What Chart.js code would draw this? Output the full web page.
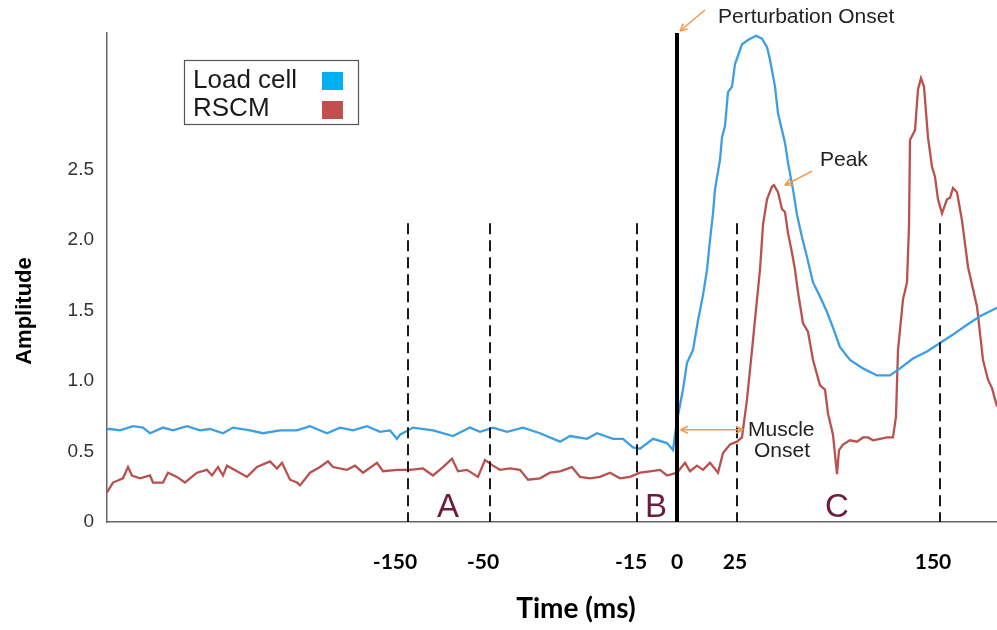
<!DOCTYPE html>
<html>
<head>
<meta charset="utf-8">
<title>Load cell / RSCM</title>
<script src="https://cdn.jsdelivr.net/npm/chart.js@4.4.1/dist/chart.umd.min.js"></script>
<style>
  html, body { margin: 0; padding: 0; background: #fff; }
</style>
</head>
<body>
<canvas id="myChart" width="997" height="630"></canvas>
<script>
// sample index (0 = perturbation onset) and amplitude for each trace
const loadSample = [-285, -283.5, -278.5, -272, -267, -263.5, -257, -252, -245, -238.5, -233.5, -227, -222, -213.5, -207, -198.5, -190, -183.5, -175, -168.5, -162, -155, -148.5, -143.5, -140, -138.5, -132, -122, -112, -103.5, -98.5, -92, -85, -77, -68.5, -58.5, -53.5, -45, -40, -32, -27, -22, -18.5, -12, -5, -2, 0, 1.5, 3, 5, 8, 10.5, 13, 15, 16.5, 18, 19, 21.5, 22.5, 24, 25.5, 27.5, 29, 32.5, 35.5, 39.5, 42.5, 45, 46.5, 49, 50.5, 54, 55.5, 58, 60, 62.5, 65, 68, 71.5, 75, 78, 81.5, 86.5, 93, 100, 106.5, 111.5, 118, 125, 131.5, 138, 145, 151.5, 160];
const loadAmp = [0.66, 0.66, 0.65, 0.68, 0.67, 0.63, 0.67, 0.65, 0.68, 0.65, 0.66, 0.63, 0.67, 0.65, 0.63, 0.65, 0.65, 0.68, 0.63, 0.67, 0.65, 0.68, 0.64, 0.65, 0.59, 0.62, 0.67, 0.65, 0.61, 0.67, 0.64, 0.67, 0.64, 0.67, 0.63, 0.57, 0.61, 0.59, 0.63, 0.59, 0.59, 0.53, 0.52, 0.59, 0.56, 0.51, 0.72, 0.83, 0.94, 1.13, 1.22, 1.43, 1.61, 1.79, 2.00, 2.19, 2.36, 2.57, 2.73, 2.81, 3.05, 3.09, 3.25, 3.39, 3.42, 3.45, 3.43, 3.37, 3.28, 3.09, 2.90, 2.69, 2.55, 2.36, 2.18, 2.02, 1.88, 1.70, 1.60, 1.49, 1.38, 1.24, 1.15, 1.09, 1.04, 1.04, 1.09, 1.16, 1.21, 1.27, 1.33, 1.40, 1.46, 1.52];

const rscmSample = [-285, -282, -277, -274.5, -272.5, -268.5, -263.5, -262, -257, -254.5, -250, -246, -243.5, -240, -235, -232.5, -229.5, -227, -225, -220, -215, -210, -203.5, -200, -197.5, -193.5, -190, -188.5, -183.5, -178.5, -174.5, -172, -165, -161, -157, -150, -147, -140, -133.5, -127, -122, -117, -112.5, -109.5, -105, -99.5, -96, -92, -88.5, -83.5, -78.5, -74.5, -68.5, -63.5, -58.5, -52.5, -48.5, -43.5, -38.5, -33.5, -28.5, -23.5, -18.5, -13.5, -8.5, -5, 0, 4, 6.5, 10, 13, 16.5, 20.5, 23, 26.5, 30, 32.5, 35, 37.5, 40, 41.5, 43, 45, 47.5, 48.5, 50.5, 52.5, 54, 55.5, 57.5, 59, 60.5, 63, 65.5, 68, 71.5, 74, 75.5, 78, 80, 81, 83, 86.5, 90, 93, 95.5, 98, 101.5, 105, 108, 109.5, 110.5, 113, 115, 116, 116.5, 119, 120.5, 122, 123.5, 125.5, 127.5, 129, 130.5, 132.5, 135, 136.5, 138, 140, 142.5, 145.5, 150, 153, 155.5, 157.5, 160];
const rscmAmp = [0.21, 0.28, 0.31, 0.39, 0.33, 0.31, 0.33, 0.28, 0.28, 0.35, 0.32, 0.28, 0.31, 0.35, 0.37, 0.33, 0.39, 0.33, 0.40, 0.36, 0.32, 0.39, 0.43, 0.38, 0.42, 0.30, 0.28, 0.26, 0.35, 0.39, 0.43, 0.39, 0.37, 0.40, 0.35, 0.42, 0.36, 0.37, 0.37, 0.38, 0.33, 0.39, 0.45, 0.36, 0.37, 0.32, 0.44, 0.40, 0.37, 0.38, 0.37, 0.30, 0.31, 0.35, 0.36, 0.39, 0.32, 0.31, 0.32, 0.35, 0.31, 0.32, 0.35, 0.36, 0.37, 0.33, 0.35, 0.42, 0.36, 0.40, 0.37, 0.42, 0.35, 0.49, 0.55, 0.57, 0.60, 0.87, 1.22, 1.58, 1.79, 2.11, 2.29, 2.38, 2.39, 2.34, 2.22, 2.20, 2.05, 1.91, 1.79, 1.63, 1.41, 1.35, 1.15, 0.97, 0.94, 0.77, 0.62, 0.34, 0.51, 0.55, 0.58, 0.57, 0.60, 0.60, 0.58, 0.59, 0.60, 0.60, 0.75, 1.22, 1.58, 1.70, 2.10, 2.71, 2.78, 3.07, 3.15, 3.09, 2.73, 2.52, 2.45, 2.29, 2.19, 2.29, 2.30, 2.37, 2.34, 2.14, 1.81, 1.53, 1.15, 1.01, 0.95, 0.82];

// time axis labels and the analysis window boundaries (in samples)
const tickSamples = [-141, -97, -23, 0, 29, 128];
const tickLabels = ['-150', '-50', '-15', '0', '25', '150'];
const windowMarks = [-134.5, -93.5, -20, 30, 131.5];
const windowTop = 2.12;
const ampTicks = [0, 0.5, 1, 1.5, 2, 2.5];

const toPoints = (xs, ys) => xs.map((s, i) => ({ x: s, y: ys[i] }));

const ORANGE = '#f39a4f';
const TEXT = '#222';

function arrow(ctx, x1, y1, x2, y2, both) {
  const head = (xa, ya, xb, yb) => {
    const a = Math.atan2(yb - ya, xb - xa);
    ctx.beginPath();
    ctx.moveTo(xb, yb);
    ctx.lineTo(xb - 8 * Math.cos(a - 0.45), yb - 8 * Math.sin(a - 0.45));
    ctx.moveTo(xb, yb);
    ctx.lineTo(xb - 8 * Math.cos(a + 0.45), yb - 8 * Math.sin(a + 0.45));
    ctx.stroke();
  };
  ctx.beginPath();
  ctx.moveTo(x1, y1);
  ctx.lineTo(x2, y2);
  ctx.stroke();
  head(x1, y1, x2, y2);
  if (both) head(x2, y2, x1, y1);
}

// markers, phase letters, notes, legend and axis titles
const overlay = {
  id: 'overlay',
  afterDatasetsDraw(chart) {
    const { ctx, chartArea: area, scales: { x, y } } = chart;
    const px = (s) => x.getPixelForValue(s);
    const py = (v) => y.getPixelForValue(v);
    ctx.save();

    // window boundaries
    ctx.strokeStyle = '#1a1a1a';
    ctx.lineWidth = 2;
    ctx.setLineDash([11, 6]);
    windowMarks.forEach((s) => {
      ctx.beginPath();
      ctx.moveTo(px(s), py(windowTop));
      ctx.lineTo(px(s), py(0));
      ctx.stroke();
    });
    ctx.setLineDash([]);

    // perturbation onset
    ctx.strokeStyle = '#000';
    ctx.lineWidth = 4;
    ctx.beginPath();
    ctx.moveTo(px(0), area.top);
    ctx.lineTo(px(0), area.bottom);
    ctx.stroke();

    // phase letters
    ctx.fillStyle = '#6b1d3d';
    ctx.font = '33px "Liberation Sans", Arial, sans-serif';
    ctx.textAlign = 'center';
    ctx.textBaseline = 'alphabetic';
    ctx.fillText('A', px(-114.5), py(0) - 5);
    ctx.fillText('B', px(-10.5), py(0) - 5);
    ctx.fillText('C', px(80), py(0) - 5);

    // notes
    ctx.fillStyle = TEXT;
    ctx.font = '21px "Liberation Sans", Arial, sans-serif';
    ctx.textAlign = 'left';
    ctx.fillText('Perturbation Onset', px(20.5), area.top - 10);
    ctx.textBaseline = 'middle';
    ctx.fillText('Peak', px(71.5), py(2.57));
    ctx.fillText('Muscle', px(35.5), py(0.65));
    ctx.fillText('Onset', px(38.5), py(0.5));

    ctx.strokeStyle = ORANGE;
    ctx.lineWidth = 1.6;
    arrow(ctx, px(14), area.top - 23, px(1.5), area.top - 2, false);
    arrow(ctx, px(67.5), py(2.49), px(54), py(2.39), false);
    arrow(ctx, px(1.8), py(0.655), px(33), py(0.655), true);

    // legend
    const lx = area.left + 77;
    const ly = area.top + 27;
    ctx.strokeStyle = '#555';
    ctx.lineWidth = 1.2;
    ctx.strokeRect(lx + 0.5, ly + 0.5, 174, 64);
    ctx.fillStyle = '#1a1a1a';
    ctx.font = '26px "Liberation Sans", Arial, sans-serif';
    ctx.textBaseline = 'alphabetic';
    ctx.fillText('Load cell', lx + 9, ly + 28);
    ctx.fillText('RSCM', lx + 9, ly + 56);
    ctx.fillStyle = '#00b0f0';
    ctx.fillRect(lx + 138, ly + 12, 21, 18);
    ctx.fillStyle = '#c0504d';
    ctx.fillRect(lx + 138, ly + 41, 21, 18);

    // axis titles
    ctx.fillStyle = '#000';
    ctx.textAlign = 'center';
    ctx.textBaseline = 'middle';
    ctx.font = 'bold 28px Lato, sans-serif';
    ctx.fillText('Time (ms)', 576, 609);
    ctx.save();
    ctx.translate(25, 311);
    ctx.rotate(-Math.PI / 2);
    ctx.font = 'bold 22px "Liberation Sans", Arial, sans-serif';
    ctx.fillText('Amplitude', 0, 0);
    ctx.restore();

    ctx.restore();
  }
};

const chart = new Chart(document.getElementById('myChart').getContext('2d'), {
  type: 'line',
  data: {
    datasets: [
      {
        label: 'Load cell',
        data: toPoints(loadSample, loadAmp),
        borderColor: '#3c9fe2',
        borderWidth: 2.3,
        pointRadius: 0,
        tension: 0,
        clip: false,
      },
      {
        label: 'RSCM',
        data: toPoints(rscmSample, rscmAmp),
        borderColor: '#b9514f',
        borderWidth: 2.3,
        pointRadius: 0,
        tension: 0,
        clip: false,
      },
    ],
  },
  options: {
    responsive: false,
    animation: false,
    devicePixelRatio: 1,
    layout: { padding: { top: 33, right: 0, bottom: 0, left: 0 } },
    plugins: {
      legend: { display: false },
      tooltip: { enabled: false },
    },
    scales: {
      x: {
        type: 'linear',
        min: -285,
        max: 160,
        afterBuildTicks: (scale) => {
          scale.ticks = tickSamples.map((v) => ({ value: v }));
        },
        afterFit: (scale) => {
          scale.height = 108;
        },
        ticks: {
          autoSkip: false,
          maxRotation: 0,
          padding: 28,
          color: '#000',
          font: { family: 'Lato', weight: 'bold', size: 21 },
          callback: (value, index) => tickLabels[index],
        },
        grid: { display: false, drawTicks: false },
        border: { color: '#666', width: 1.5 },
      },
      y: {
        min: 0,
        max: 3.47,
        afterBuildTicks: (scale) => {
          scale.ticks = ampTicks.map((v) => ({ value: v }));
        },
        afterFit: (scale) => {
          scale.width = 107;
        },
        ticks: {
          padding: 13,
          color: '#333',
          font: { family: 'Liberation Sans', size: 19 },
          callback: (value) => (value === 0 ? '0' : value.toFixed(1)),
        },
        grid: { display: false, drawTicks: false },
        border: { color: '#666', width: 1.5 },
      },
    },
  },
  plugins: [overlay],
});
</script>
</body>
</html>
